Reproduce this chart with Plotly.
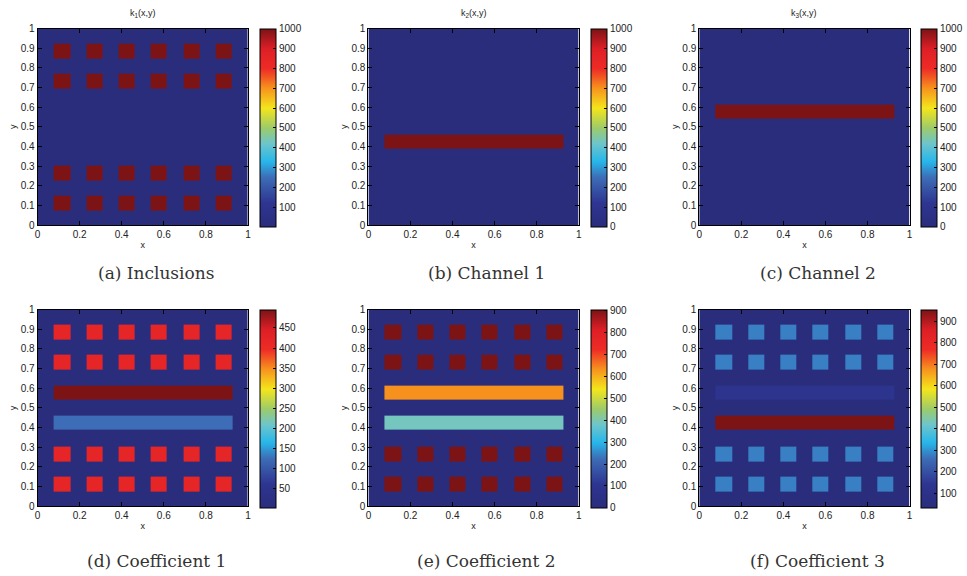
import plotly.graph_objects as go

W, H = 967, 576

# ---- geometry of the medium (unit square) ----
incl_x = [(0.077, 0.155), (0.232, 0.308), (0.386, 0.462),
          (0.538, 0.614), (0.692, 0.768), (0.845, 0.923)]
incl_y = [(0.075, 0.151), (0.228, 0.304), (0.694, 0.770), (0.847, 0.923)]
chan_x = (0.078, 0.925)
chan1_y = (0.387, 0.463)
chan2_y = (0.540, 0.615)

# ---- values of each field: background, inclusions, channel 1, channel 2 ----
field_titles = ["k<sub>1</sub>(x,y)", "k<sub>2</sub>(x,y)", "k<sub>3</sub>(x,y)", "", "", ""]
captions = ["(a) Inclusions", "(b) Channel 1", "(c) Channel 2",
            "(d) Coefficient 1", "(e) Coefficient 2", "(f) Coefficient 3"]
bg_val = [1, 1, 1, 2, 0, 31]
incl_val = [1000, 1, 1, 420, 905, 280]
chan1_val = [1, 1000, 1, 125, 390, 954]
chan2_val = [1, 1, 1000, 495, 635, 125]
cmin = [1, 0, 0, 2, 0, 31]
cmax = [1000, 1000, 1000, 495, 905, 954]
cb_dtick = [100, 100, 100, 50, 100, 100]

x_ticks = [0, 0.2, 0.4, 0.6, 0.8, 1]
y_ticks = [0, 0.1, 0.2, 0.3, 0.4, 0.5, 0.6, 0.7, 0.8, 0.9, 1]

# jet-like colour map as it appears in print
jet = [
    [0.00, "#2a2d7c"],
    [0.12, "#2e3591"],
    [0.25, "#3d6db6"],
    [0.33, "#27b6ea"],
    [0.42, "#6dc5cc"],
    [0.50, "#9dcb6a"],
    [0.60, "#f4e51c"],
    [0.70, "#f7931e"],
    [0.80, "#ee2b26"],
    [0.90, "#dd1f26"],
    [1.00, "#7c1416"],
]

# cell boundaries from rectangle edges
xs = sorted({0.0, 1.0, *[e for r in incl_x for e in r], *chan_x})
ys = sorted({0.0, 1.0, *[e for r in incl_y for e in r], *chan1_y, *chan2_y})


def inside(v, rng):
    return rng[0] <= v <= rng[1]


def build_field(i):
    z = []
    for j in range(len(ys) - 1):
        cy = 0.5 * (ys[j] + ys[j + 1])
        row = []
        for k in range(len(xs) - 1):
            cx = 0.5 * (xs[k] + xs[k + 1])
            v = bg_val[i]
            if any(inside(cx, r) for r in incl_x) and any(inside(cy, r) for r in incl_y):
                v = incl_val[i]
            elif inside(cx, chan_x) and inside(cy, chan1_y):
                v = chan1_val[i]
            elif inside(cx, chan_x) and inside(cy, chan2_y):
                v = chan2_val[i]
            row.append(v)
        z.append(row)
    return z


# pixel layout of panels
col_left = [35, 370, 705]
plot_w = 213
row_top = [24, 310]
plot_h = 200
caption_y = [273, 566]
cb_off = 225
cb_w = 16

TICK_FONT = dict(family="Liberation Sans, Arial, sans-serif", size=10, color="#222")

fig = go.Figure()
annotations = []
for i in range(6):
    r, c = divmod(i, 3)
    x0, y0 = col_left[c], row_top[r]
    ax = "" if i == 0 else str(i + 1)
    fig.add_trace(go.Heatmap(
        x=xs, y=ys, z=build_field(i),
        zmin=cmin[i], zmax=cmax[i], colorscale=jet,
        xaxis="x" + ax, yaxis="y" + ax,
        colorbar=dict(
            x=(x0 + cb_off) / W, xanchor="left", xpad=0,
            y=1 - (y0 + plot_h / 2 + 1) / H, yanchor="middle", ypad=0,
            len=(plot_h + 2) / H, lenmode="fraction",
            thickness=cb_w, thicknessmode="pixels",
            outlinewidth=1, outlinecolor="black",
            ticks="inside", ticklen=3, tickcolor="black",
            tick0=0, dtick=cb_dtick[i], tickfont=TICK_FONT,
        ),
        hoverinfo="skip",
    ))
    common = dict(range=[0, 1], showgrid=False, zeroline=False,
                  showline=True, linecolor="black", linewidth=1, mirror="ticks",
                  ticks="inside", ticklen=4, tickcolor="black", tickfont=TICK_FONT)
    fig.update_layout(**{
        "xaxis" + ax: dict(common, domain=[x0 / W, (x0 + plot_w) / W],
                           tickvals=x_ticks, ticktext=[f"{v:g}" for v in x_ticks],
                           anchor="y" + ax,
                           title=dict(text="x", font=dict(TICK_FONT, size=9), standoff=2)),
        "yaxis" + ax: dict(common, domain=[1 - (y0 + plot_h) / H, 1 - y0 / H],
                           tickvals=y_ticks, ticktext=[f"{v:g}" for v in y_ticks],
                           anchor="x" + ax,
                           title=dict(text="y", font=dict(TICK_FONT, size=9), standoff=2)),
    })
    if field_titles[i]:
        annotations.append(dict(
            text=field_titles[i], x=(x0 + plot_w / 2) / W, y=1 - (y0 - 15) / H,
            xref="paper", yref="paper", showarrow=False,
            xanchor="center", yanchor="middle",
            font=dict(family="Liberation Sans, Arial, sans-serif", size=9, color="#222"),
        ))
    annotations.append(dict(
        text=captions[i], x=(x0 + 120) / W, y=1 - caption_y[r] / H,
        xref="paper", yref="paper", showarrow=False,
        xanchor="center", yanchor="middle",
        font=dict(family="DejaVu Serif, Liberation Serif, serif", size=17, color="#333"),
    ))

fig.update_layout(
    width=W, height=H, margin=dict(l=0, r=0, t=0, b=0),
    paper_bgcolor="white", plot_bgcolor="white",
    showlegend=False, annotations=annotations,
)
fig.write_html("out.html")
